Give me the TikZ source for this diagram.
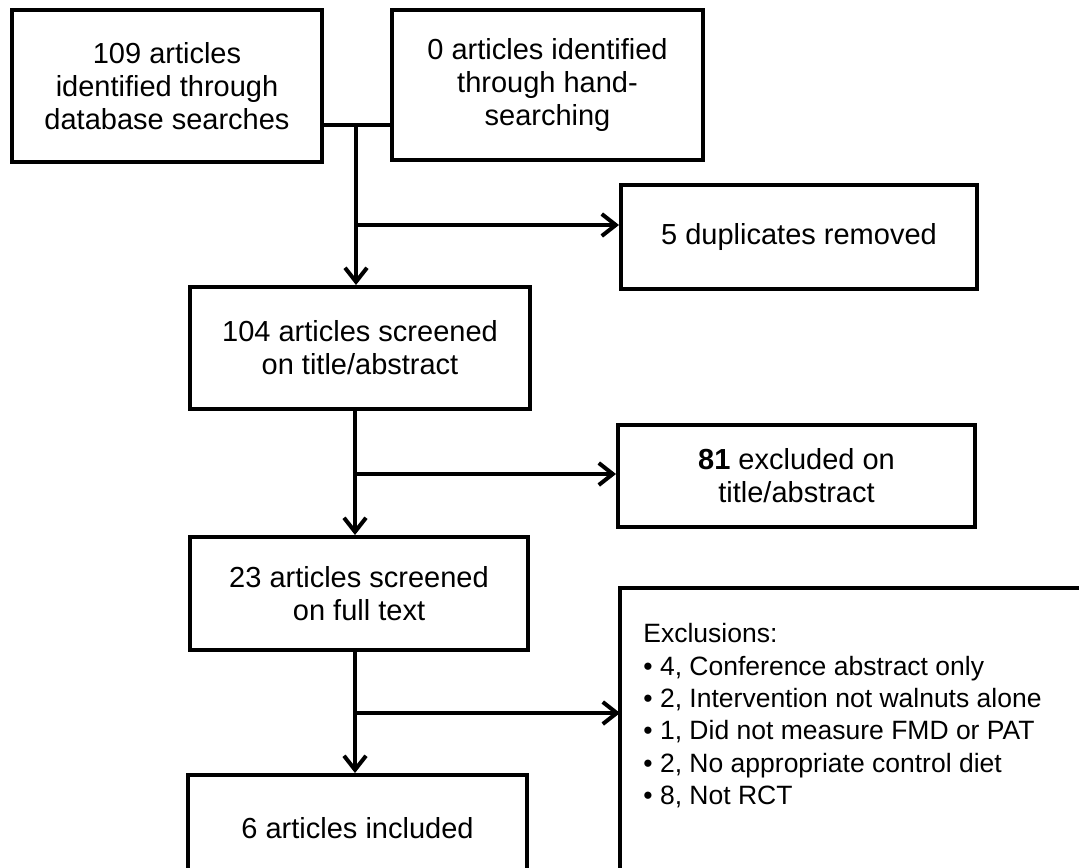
\documentclass[tikz,border=0pt]{standalone}
\usepackage{fontspec}
\setmainfont{Liberation Sans}
\usetikzlibrary{arrows.meta}

\tikzset{
  flowbox/.style={draw, line width=2pt, align=center, inner sep=2pt,
    font=\fontsize{14.5}{16.5}\selectfont},
  flowline/.style={line width=2pt},
  flowarr/.style={line width=2pt, -{Straight Barb[length=7pt,width=11pt]}}
}

\begin{document}
\begin{tikzpicture}[x=0.5pt,y=-0.5pt]
  \useasboundingbox[fill=white] (0,0) rectangle (1079,867);
  \clip (0,0) rectangle (1079,867);
  % sources
  \node[flowbox, minimum width=155pt, minimum height=76pt] (search) at (167,86)
    {109 articles\\identified through\\database searches};
  \node[flowbox, minimum width=155.5pt, minimum height=75pt] (hand) at (547.5,85)
    {0 articles identified\\through hand-\\searching};
  % main column
  \node[flowbox, minimum width=170pt, minimum height=61pt] (screen) at (360,348)
    {104 articles screened\\on title/abstract};
  \node[flowbox, minimum width=169pt, minimum height=56.5pt] (fulltext) at (359,593.5)
    {23 articles screened\\on full text};
  \node[flowbox, minimum width=169.5pt, minimum height=53pt] (incl) at (357.5,828)
    {6 articles included};
  % side boxes
  \node[flowbox, minimum width=178pt, minimum height=52pt] (dupl) at (799,237)
    {5 duplicates removed};
  \node[flowbox, minimum width=178.5pt, minimum height=51pt] (titlex) at (796.5,476)
    {\textbf{81} excluded on\\title/abstract};
  \node[draw, line width=2pt, inner sep=0pt, outer sep=0pt, anchor=north west,
    minimum width=250pt, minimum height=170pt] (exclbox) at (620,588) {};
  \node[anchor=north west, inner sep=0pt, align=left,
    font=\fontsize{13.25}{16.2}\selectfont] (excltext) at (643,623)
    {Exclusions:\\
     • 4, Conference abstract only\\
     • 2, Intervention not walnuts alone\\
     • 1, Did not measure FMD or PAT\\
     • 2, No appropriate control diet\\
     • 8, Not RCT};
  % connectors
  \coordinate (fork) at (356,125);
  \coordinate (dupfork) at (356,225);
  \coordinate (tfork) at (355,474);
  \coordinate (ffork) at (355,713);
  \draw[flowline] (search.east |- fork) -- (hand.west |- fork);
  \draw[flowarr] (fork) -- (fork |- screen.north);
  \draw[flowarr] (dupfork) -- (dupl.west |- dupfork);
  \draw[flowarr] (tfork |- screen.south) -- (tfork |- fulltext.north);
  \draw[flowarr] (tfork) -- (titlex.west |- tfork);
  \draw[flowarr] (ffork |- fulltext.south) -- (ffork |- incl.north);
  \draw[flowarr] (ffork) -- (exclbox.west |- ffork);
\end{tikzpicture}
\end{document}
